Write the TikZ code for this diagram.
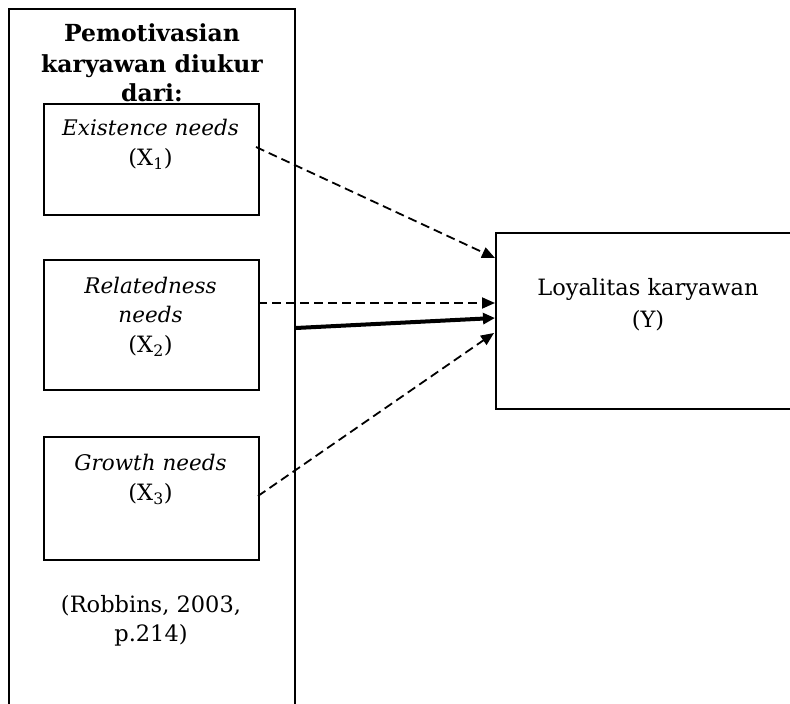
\documentclass[tikz,border=0pt]{standalone}
\usepackage{fontspec}
\setmainfont{DejaVu Serif}
\usetikzlibrary{arrows.meta}
\begin{document}
\begin{tikzpicture}[x=1pt,y=-1pt,
  frame/.style={draw,line width=1.6pt,inner sep=0pt,anchor=north west},
  txt/.style={inner sep=0pt,anchor=base,font=\fontsize{22.5}{30}\selectfont},
  itxt/.style={inner sep=0pt,anchor=base,font=\fontsize{21.5}{30}\selectfont\itshape},
  ttl/.style={inner sep=0pt,anchor=base,font=\fontsize{23.5}{30}\selectfont\bfseries},
  dasharrow/.style={line width=1.8pt,dash pattern=on 9pt off 5pt,-{Triangle[length=13pt,width=11pt]}},
  solidarrow/.style={line width=4pt,-{Triangle[length=12pt,width=11pt]}}]
\useasboundingbox (0,0) rectangle (790,704);
\clip (0,0) rectangle (790,704);
\node[frame,minimum width=286pt,minimum height=720pt] (outer) at (8,8) {};
\node[ttl] (title1) at (152,41) {Pemotivasian};
\node[ttl] (title2) at (152,72) {karyawan diukur};
\node[ttl] (title3) at (152,101) {dari:};
\node[frame,minimum width=215pt,minimum height=111pt] (b1) at (43,103) {};
\node[frame,minimum width=215pt,minimum height=130pt] (b2) at (43,259) {};
\node[frame,minimum width=215pt,minimum height=123pt] (b3) at (43,436) {};
\node[itxt] (t1a) at (150.5,135) {Existence needs};
\node[txt] (t1b) at (150.5,165) {(X\textsubscript{1})};
\node[itxt] (t2a) at (150.5,293) {Relatedness};
\node[itxt] (t2b) at (150.5,322) {needs};
\node[txt] (t2c) at (150.5,352) {(X\textsubscript{2})};
\node[itxt] (t3a) at (150.5,470) {Growth needs};
\node[txt] (t3b) at (150.5,500) {(X\textsubscript{3})};
\node[txt] (cite1) at (151,612) {(Robbins, 2003,};
\node[txt] (cite2) at (151,641) {p.214)};
\node[frame,minimum width=310pt,minimum height=176pt] (y) at (495,232) {};
\node[txt] (ty1) at (648,295) {Loyalitas karyawan};
\node[txt] (ty2) at (648,327) {(Y)};
\coordinate (s1) at (256,147);
\coordinate (e1) at (495,258);
\coordinate (s2) at (258,303);
\coordinate (e2) at (495,303);
\coordinate (s3) at (296,328);
\coordinate (e3) at (495,318);
\coordinate (s4) at (258,496);
\coordinate (e4) at (494,333);
\draw[dasharrow] (s1) -- (e1);
\draw[dasharrow] (s2) -- (e2);
\draw[solidarrow] (s3) -- (e3);
\draw[dasharrow] (s4) -- (e4);
\end{tikzpicture}
\end{document}
